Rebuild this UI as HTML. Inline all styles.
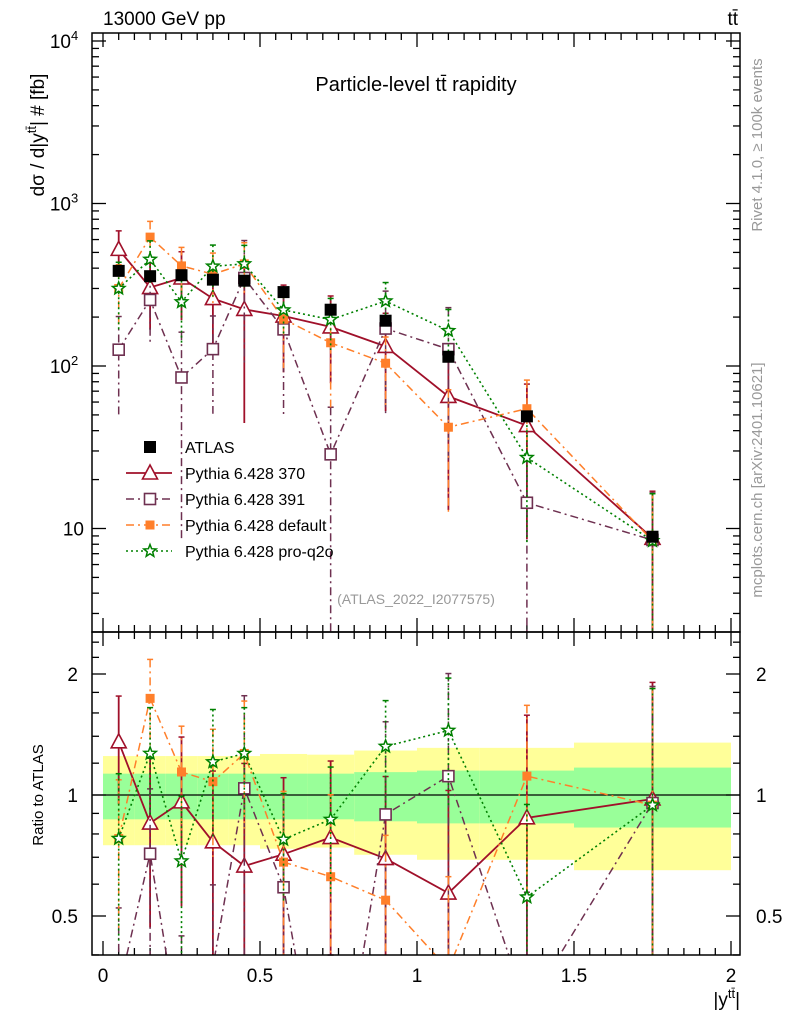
<!DOCTYPE html>
<html><head><meta charset="utf-8"><style>
html,body{margin:0;padding:0;background:#fff;overflow:hidden;width:786px;height:1024px}
svg{display:block;font-family:"Liberation Sans",sans-serif}
</style></head><body>
<svg id="c" width="786" height="1024" viewBox="0 0 786 1024" xmlns="http://www.w3.org/2000/svg">
<g id="bands"></g><g id="grid"></g><g id="series"></g>
<rect x="92" y="33" width="648" height="599" fill="none" stroke="#000" stroke-width="1.5"/>
<rect x="92" y="632" width="648" height="323" fill="none" stroke="#000" stroke-width="1.5"/>
<text x="103" y="25" font-size="19">13000 GeV pp</text>
<text x="738" y="25" font-size="19" text-anchor="end">tt̄</text>
<text x="416" y="91" font-size="20" text-anchor="middle">Particle-level tt̄ rapidity</text>
<text x="416" y="604" font-size="14" fill="#999" text-anchor="middle">(ATLAS_2022_I2077575)</text>
<text transform="translate(44,135) rotate(-90)" font-size="19" text-anchor="middle">dσ / d|y<tspan font-size="13" dy="-8">tt̄</tspan><tspan dy="8">| # [fb]</tspan></text>
<text transform="translate(43,795) rotate(-90)" font-size="15" text-anchor="middle">Ratio to ATLAS</text>
<text x="740" y="1006" font-size="19" text-anchor="end">|y<tspan font-size="13" dy="-8">tt̄</tspan><tspan dy="8">|</tspan></text>
<text transform="translate(762,145) rotate(-90)" font-size="15" fill="#999" text-anchor="middle">Rivet 4.1.0, ≥ 100k events</text>
<text transform="translate(762,480) rotate(-90)" font-size="15" fill="#999" text-anchor="middle">mcplots.cern.ch [arXiv:2401.10621]</text>
<g id="legend"></g>
</svg>
<script>
const binEdges=[0,0.1,0.2,0.3,0.4,0.5,0.65,0.8,1.0,1.2,1.5,2.0];
const xCenters=[0.05,0.15,0.25,0.35,0.45,0.575,0.725,0.9,1.1,1.35,1.75];
const atlas=[385,357,362,340,335,285,222,190,114,49,8.9];
const p370=[522,304,348,260,223,203,174,132,65,43,8.7];
const p391=[126,255,85,127,348,168,28.6,170,127,14.4,8.5];
const pDefault=[300,621,413,367,425,194,139,104,42,54.6,8.4];
const pProq2o=[300,453,248,411,425,221,193,251,165,27.3,8.4];
const e370=[0.3,0.45,0.45,0.5,0.8,0.55,0.55,0.6,0.8,0.8,0.95];
const e391=[0.6,0.45,0.9,0.6,0.7,0.7,0.95,0.7,0.8,0.95,0.95];
const eDefault=[0.4,0.25,0.3,0.35,0.35,0.5,0.6,0.45,0.7,0.5,0.95];
const eProq2o=[0.45,0.3,0.45,0.35,0.3,0.3,0.35,0.3,0.35,0.7,0.95];
const bandInner=[0.13,0.13,0.13,0.13,0.13,0.13,0.13,0.14,0.15,0.15,0.17];
const bandOuter=[0.25,0.25,0.25,0.25,0.25,0.265,0.26,0.29,0.31,0.31,0.35];
const mainTicks=[[10000,"10","4"],[1000,"10","3"],[100,"10","2"],[10,"10",""]];
const ratioTicks=[[2,"2"],[1,"1"],[0.5,"0.5"]];
const xTicks=[0,0.5,1,1.5,2];

const NS="http://www.w3.org/2000/svg";
const X=v=>103+v*314;
const Y=v=>41+(4-Math.log10(v))*162.5;
const R=v=>795-Math.log2(v)*121;
const clampM=y=>Math.max(33,Math.min(632,y));
const clampR=y=>Math.max(632,Math.min(955,y));
function mk(p,tag,at){const e=document.createElementNS(NS,tag);for(const k in at)e.setAttribute(k,at[k]);p.appendChild(e);return e;}
const svg=document.getElementById('c');
const bands=document.getElementById('bands'),grid=document.getElementById('grid'),ser=document.getElementById('series'),leg=document.getElementById('legend');

for(let i=0;i<xCenters.length;i++){
 const x0=X(binEdges[i]),x1=X(binEdges[i+1]);
 let r=mk(bands,'rect',{x:x0,y:R(1+bandOuter[i]),width:x1-x0,height:R(1-bandOuter[i])-R(1+bandOuter[i]),fill:'#ffff99'});
 
 
 r=mk(bands,'rect',{x:x0,y:R(1+bandInner[i]),width:x1-x0,height:R(1-bandInner[i])-R(1+bandInner[i]),fill:'#99ff99'});
 
 
}
mk(grid,'line',{x1:92,x2:740,y1:R(1),y2:R(1),stroke:'#000','stroke-width':1.3});
for(let d=0;d<=4;d++){for(let m=1;m<10;m++){const v=m*Math.pow(10,d);const y=Y(v);if(y<33||y>632)continue;const L=m==1?14:7;
 mk(grid,'line',{x1:92,x2:92+L,y1:y,y2:y,stroke:'#000','stroke-width':1.3});mk(grid,'line',{x1:740-L,x2:740,y1:y,y2:y,stroke:'#000','stroke-width':1.3});}}
mainTicks.forEach(t=>{const tx=mk(grid,'text',{x:t[2]?64:84,y:Y(t[0])+7,'font-size':19,'text-anchor':t[2]?'middle':'end'});tx.textContent=t[1];
 if(t[2]){const s=mk(tx,'tspan',{'font-size':13,dy:-8});s.textContent=t[2];}
 
 });
[0.4,0.5,0.6,0.7,0.8,0.9,1,1.2,1.4,1.6,1.8,2,2.2,2.4].forEach(v=>{const y=R(v);if(y<632||y>955)return;const L=(v==0.5||v==1||v==2)?14:7;
 mk(grid,'line',{x1:92,x2:92+L,y1:y,y2:y,stroke:'#000','stroke-width':1.3});mk(grid,'line',{x1:740-L,x2:740,y1:y,y2:y,stroke:'#000','stroke-width':1.3});});
ratioTicks.forEach(t=>{[78,756].forEach(x=>{const tx=mk(grid,'text',{x:x,y:R(t[0])+7,'font-size':19,'text-anchor':x<100?'end':'start'});tx.textContent=t[1];
 
 });});
for(let k=0;k<=40;k++){const v=k*0.05;const x=X(v);const maj=k%10==0;const L=maj?14:7;
 [[33,1],[632,-1],[632,1],[955,-1]].forEach(a=>mk(grid,'line',{x1:x,x2:x,y1:a[0],y2:a[0]+a[1]*L,stroke:'#000','stroke-width':1.3}));}
xTicks.forEach(v=>{const tx=mk(grid,'text',{x:X(v),y:982,'font-size':19,'text-anchor':'middle'});tx.textContent=String(v);
 
 });

function marker(g,type,x,y,col){
 if(type=='sq')return mk(g,'rect',{x:x-6,y:y-6,width:12,height:12,fill:'#000'});
 if(type=='tri')return mk(g,'polygon',{points:`${x},${y-8} ${x-7.5},${y+6} ${x+7.5},${y+6}`,fill:'#fff',stroke:col,'stroke-width':1.6});
 if(type=='osq')return mk(g,'rect',{x:x-5.5,y:y-5.5,width:11,height:11,fill:'#fff',stroke:col,'stroke-width':1.6});
 if(type=='fsq')return mk(g,'rect',{x:x-4.5,y:y-4.5,width:9,height:9,fill:col});
 if(type=='star'){let p=[];for(let i=0;i<10;i++){const r=i%2?2.8:6.5,a=-Math.PI/2+i*Math.PI/5;p.push((x+r*Math.cos(a)).toFixed(1)+','+(y+r*Math.sin(a)).toFixed(1));}
  return mk(g,'polygon',{points:p.join(' '),fill:'#fff',stroke:col,'stroke-width':1.5});}
}
const series=[
 {name:'pythia-370',vals:p370,err:e370,col:'#a0102a',dash:'',m:'tri',w:1.8},
 {name:'pythia-391',vals:p391,err:e391,col:'#6e3050',dash:'8,4,2,4',m:'osq',w:1.5},
 {name:'pythia-default',vals:pDefault,err:eDefault,col:'#ff7f2a',dash:'8,4,2,4',m:'fsq',w:1.5},
 {name:'pythia-pro-q2o',vals:pProq2o,err:eProq2o,col:'#008000',dash:'2,3',m:'star',w:1.6}];
function drawPanel(s,g,yf,clamp,vals,clip){
 const pts=vals.map((v,i)=>X(xCenters[i])+','+yf(v).toFixed(1)).join(' ');
 const pl=mk(g,'polyline',{points:pts,fill:'none',stroke:s.col,'stroke-width':s.w,'stroke-dasharray':s.dash,'clip-path':clip});
 
 
 vals.forEach((v,i)=>{const x=X(xCenters[i]);const lo=v*(1-s.err[i]),hi=v*(1+s.err[i]);
  const y1=clamp(yf(hi)),y2=lo>0?clamp(yf(lo)):clamp(2000);
  mk(g,'line',{x1:x,x2:x,y1:y1,y2:y2,stroke:s.col,'stroke-width':s.w,'stroke-dasharray':s.dash});
  mk(g,'line',{x1:x-3,x2:x+3,y1:y1,y2:y1,stroke:s.col,'stroke-width':1.5});
  const y=yf(v);if(clamp(y)!==y)return;
  const mm=marker(g,s.m,x,y,s.col);
  
  });
}
const defs=mk(svg,'defs',{});
const c1=mk(defs,'clipPath',{id:'cm'});mk(c1,'rect',{x:92,y:33,width:648,height:599});
const c2=mk(defs,'clipPath',{id:'cr'});mk(c2,'rect',{x:92,y:632,width:648,height:323});
series.forEach(s=>{
 const g=mk(ser,'g',{});
 
 
 drawPanel(s,g,Y,clampM,s.vals,'url(#cm)');
 drawPanel(s,g,R,clampR,s.vals.map((v,i)=>v/atlas[i]),'url(#cr)');
});
atlas.forEach((v,i)=>{const m=marker(ser,'sq',X(xCenters[i]),Y(v),'#000');
 
 });
const legItems=[['ATLAS','sq','#000','',''],['Pythia 6.428 370','tri','#a0102a','',1.8],['Pythia 6.428 391','osq','#6e3050','8,4,2,4',1.5],['Pythia 6.428 default','fsq','#ff7f2a','8,4,2,4',1.5],['Pythia 6.428 pro-q2o','star','#008000','2,3',1.6]];
legItems.forEach((it,i)=>{const y=447+i*26;const g=mk(leg,'g',{});
 
 
 if(i>0)mk(g,'line',{x1:126,x2:172,y1:y,y2:y,stroke:it[2],'stroke-width':it[4],'stroke-dasharray':it[3]});
 marker(g,it[1],150,y,it[2]);
 const t=mk(g,'text',{x:185,y:y+6,'font-size':16});t.textContent=it[0];});
</script>
</body></html>
